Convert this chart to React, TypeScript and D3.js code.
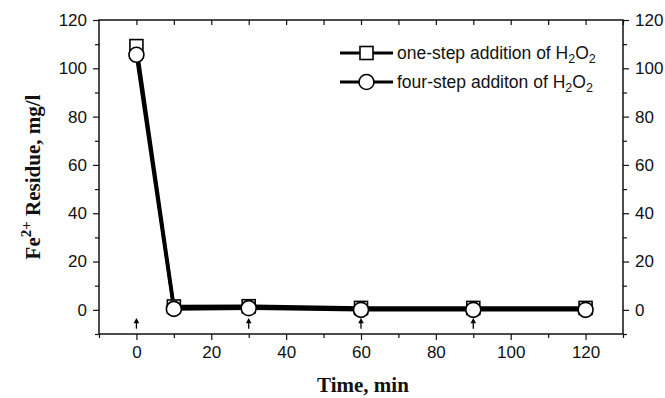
import React, { useEffect, useRef } from 'react';
import * as d3 from 'd3';

// time (min)
const times = [0, 10, 30, 60, 90, 120];
// Fe2+ residue, mg/l
const oneStep = [109.2, 1.4, 1.5, 0.8, 0.8, 0.8];
const fourStep = [105.6, 0.4, 0.7, 0, 0, 0];
// H2O2 addition moments (arrows)
const additions = [0, 30, 60, 90];

const xTicks = [0, 20, 40, 60, 80, 100, 120];
const yTicks = [0, 20, 40, 60, 80, 100, 120];

const W = 665;
const H = 398;

const App = () => {
  const svgRef = useRef<SVGSVGElement | null>(null);

  useEffect(() => {
    document.body.style.margin = '0';
    document.body.style.overflow = 'hidden';

    const svg = d3.select(svgRef.current);
    svg.selectAll('*').remove();

    const left = 99, right = 623, top = 20, bottom = 334;
    const x = d3.scaleLinear().domain([-10, 130]).range([left, right]);
    const y = d3.scaleLinear().domain([-10, 120]).range([bottom, top]);
    const tickFont = '"Liberation Sans", Arial, sans-serif';
    const titleFont = '"Liberation Serif", "Times New Roman", serif';

    const minorX = d3.range(-10, 131, 10).filter(v => !xTicks.includes(v));
    const minorY = d3.range(-10, 121, 10).filter(v => !yTicks.includes(v));

    const axes = svg.append('g');
    // bottom
    axes.append('g').attr('transform', `translate(0,${bottom})`)
      .call(d3.axisBottom(x).tickValues(xTicks).tickSize(6).tickPadding(6).tickFormat(d3.format('d')));
    axes.append('g').attr('transform', `translate(0,${bottom})`)
      .call(d3.axisBottom(x).tickValues(minorX).tickSize(4).tickFormat(() => ''));
    // top (inward)
    axes.append('g').attr('transform', `translate(0,${top})`)
      .call(d3.axisBottom(x).tickValues(d3.range(0, 131, 10)).tickSize(5).tickFormat(() => ''));
    // left
    axes.append('g').attr('transform', `translate(${left},0)`)
      .call(d3.axisLeft(y).tickValues(yTicks).tickSize(6).tickPadding(6));
    axes.append('g').attr('transform', `translate(${left},0)`)
      .call(d3.axisLeft(y).tickValues(minorY).tickSize(4).tickFormat(() => ''));
    // right
    axes.append('g').attr('transform', `translate(${right},0)`)
      .call(d3.axisRight(y).tickValues(yTicks).tickSize(6).tickPadding(6));
    axes.append('g').attr('transform', `translate(${right},0)`)
      .call(d3.axisRight(y).tickValues(minorY).tickSize(4).tickFormat(() => ''));

    axes.selectAll('.domain').remove();
    axes.selectAll('line').attr('stroke', '#111').attr('stroke-width', 1.2);
    axes.selectAll('text').attr('font-family', tickFont).attr('font-size', 17).attr('fill', '#111');

    // frame
    svg.append('rect')
      .attr('x', left).attr('y', top)
      .attr('width', right - left).attr('height', bottom - top)
      .attr('fill', 'none').attr('stroke', '#111').attr('stroke-width', 1.5);

    const line = d3.line<number>().x((_, i) => x(times[i])).y(d => y(d));
    [oneStep, fourStep].forEach(series => {
      svg.append('path').datum(series).attr('d', line)
        .attr('fill', 'none').attr('stroke', '#000').attr('stroke-width', 3.5);
    });

    // squares
    svg.append('g').selectAll('rect').data(oneStep).enter().append('rect')
      .attr('x', (_, i) => x(times[i]) - 6.5).attr('y', d => y(d) - 6.5)
      .attr('width', 13).attr('height', 13)
      .attr('fill', '#fff').attr('stroke', '#000').attr('stroke-width', 1.6);
    // circles
    svg.append('g').selectAll('circle').data(fourStep).enter().append('circle')
      .attr('cx', (_, i) => x(times[i])).attr('cy', d => y(d)).attr('r', 7.5)
      .attr('fill', '#fff').attr('stroke', '#000').attr('stroke-width', 1.6);

    // arrows
    const arr = svg.append('g');
    additions.forEach(t => {
      const ax = x(t);
      arr.append('line').attr('x1', ax).attr('x2', ax).attr('y1', y(-7.8)).attr('y2', y(-5))
        .attr('stroke', '#000').attr('stroke-width', 1.3);
      arr.append('path')
        .attr('d', `M${ax},${y(-3.4)} L${ax - 2.8},${y(-5.6)} L${ax + 2.8},${y(-5.6)} Z`)
        .attr('fill', '#000');
    });

    // legend
    const legend = [
      { label: 'one-step addition of H', shape: 'square' },
      { label: 'four-step additon of H', shape: 'circle' },
    ];
    legend.forEach((item, i) => {
      const ly = 53 + i * 29;
      const g = svg.append('g');
      g.append('line').attr('x1', 340).attr('x2', 393).attr('y1', ly).attr('y2', ly)
        .attr('stroke', '#000').attr('stroke-width', 3);
      if (item.shape === 'square') {
        g.append('rect').attr('x', 360).attr('y', ly - 6.5).attr('width', 13).attr('height', 13)
          .attr('fill', '#fff').attr('stroke', '#000').attr('stroke-width', 1.6);
      } else {
        g.append('circle').attr('cx', 366.5).attr('cy', ly).attr('r', 7.5)
          .attr('fill', '#fff').attr('stroke', '#000').attr('stroke-width', 1.6);
      }
      const t = g.append('text').attr('x', 397).attr('y', ly + 6)
        .attr('font-family', tickFont).attr('font-size', 17.5).attr('fill', '#111');
      t.append('tspan').text(item.label);
      t.append('tspan').attr('font-size', 12.5).attr('dy', 4).text('2');
      t.append('tspan').attr('dy', -4).text('O');
      t.append('tspan').attr('font-size', 12.5).attr('dy', 4).text('2');
    });

    // axis titles
    svg.append('text').attr('x', (left + right) / 2 + 2).attr('y', 392)
      .attr('text-anchor', 'middle').attr('font-family', titleFont)
      .attr('font-weight', 'bold').attr('font-size', 21).attr('fill', '#111')
      .text('Time, min');

    const yl = svg.append('text')
      .attr('transform', `translate(40,${(top + bottom) / 2}) rotate(-90)`)
      .attr('text-anchor', 'middle').attr('font-family', titleFont)
      .attr('font-weight', 'bold').attr('font-size', 21).attr('fill', '#111');
    yl.append('tspan').text('Fe');
    yl.append('tspan').attr('font-size', 15).attr('dy', -9).text('2+');
    yl.append('tspan').attr('dy', 9).text(' Residue, mg/l');
  }, []);

  return (
    <div style={{ width: W, height: H, background: '#fff', overflow: 'hidden' }}>
      <svg ref={svgRef} width={W} height={H} style={{ display: 'block' }} />
    </div>
  );
};

export default App;
